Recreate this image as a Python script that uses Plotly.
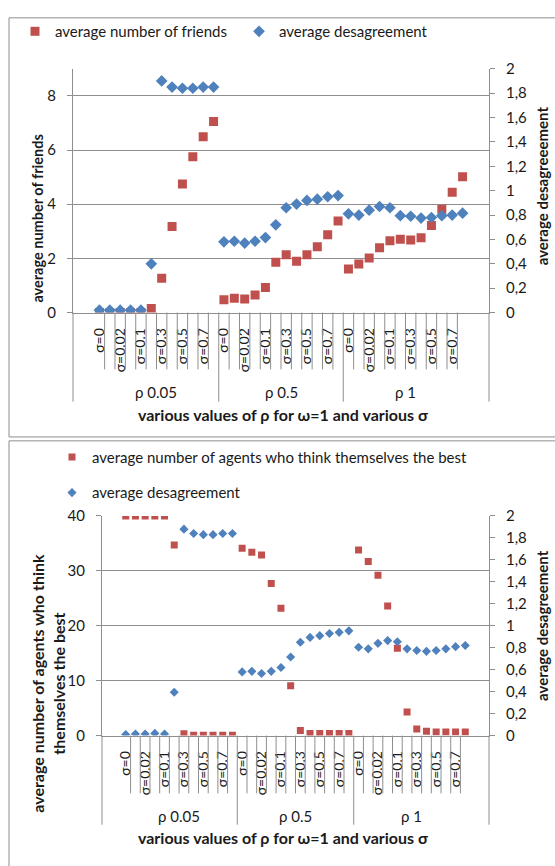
import plotly.graph_objects as go

# ----------------------------------------------------------------------------------------------------------------------
#  DATA
# ----------------------------------------------------------------------------------------------------------------------
rho_groups = ["ρ 0.05", "ρ 0.5", "ρ 1"]
sigma_labels = ["σ=0", "", "σ=0.02", "", "σ=0.1", "", "σ=0.3", "", "σ=0.5", "", "σ=0.7", ""]

# top chart : average number of friends (left axis) / average desagreement (right axis)
friends_rho005 = [0, 0, 0, 0, 0, 0.15, 1.27, 3.18, 4.75, 5.75, 6.49, 7.05]
friends_rho05 = [0.47, 0.53, 0.50, 0.65, 0.93, 1.86, 2.13, 1.89, 2.13, 2.43, 2.87, 3.38]
friends_rho1 = [1.61, 1.79, 2.01, 2.39, 2.65, 2.71, 2.68, 2.76, 3.21, 3.81, 4.44, 5.01]

desag1_rho005 = [0.02, 0.02, 0.02, 0.02, 0.02, 0.40, 1.90, 1.85, 1.84, 1.84, 1.85, 1.85]
desag1_rho05 = [0.58, 0.585, 0.57, 0.585, 0.615, 0.72, 0.86, 0.89, 0.92, 0.93, 0.95, 0.96]
desag1_rho1 = [0.81, 0.80, 0.84, 0.87, 0.86, 0.795, 0.79, 0.775, 0.78, 0.795, 0.80, 0.815]

# bottom chart : average number of agents who think themselves the best / average desagreement
best_rho005 = [40, 40, 40, 40, 40, 34.7, 0.35, 0.05, 0.05, 0.05, 0.05, 0.05]
best_rho05 = [34.1, 33.4, 32.9, 27.7, 23.2, 9.1, 0.95, 0.4, 0.4, 0.4, 0.4, 0.4]
best_rho1 = [33.8, 31.7, 29.2, 23.6, 15.9, 4.3, 1.2, 0.77, 0.65, 0.65, 0.65, 0.65]

desag2_rho005 = [0.01, 0.015, 0.015, 0.02, 0.015, 0.395, 1.88, 1.84, 1.83, 1.83, 1.84, 1.84]
desag2_rho05 = [0.58, 0.585, 0.565, 0.585, 0.62, 0.716, 0.85, 0.894, 0.91, 0.93, 0.94, 0.954]
desag2_rho1 = [0.805, 0.79, 0.84, 0.865, 0.855, 0.79, 0.775, 0.767, 0.775, 0.79, 0.81, 0.82]

# ----------------------------------------------------------------------------------------------------------------------
#  PLOT
# ----------------------------------------------------------------------------------------------------------------------
W, H = 555, 866
RED, BLUE = "#C0504D", "#4F81BD"
GRAY = "#8E8E8E"
TXT = "#1a1a1a"
FONT = "Lato"
FS = 15


def px(v):
    return v / W


def py(v):
    return 1 - v / H


cats = [g + " " + s + str(i) for g in rho_groups for i, s in enumerate(sigma_labels)]
ticktext = sigma_labels * len(rho_groups)
n_sig = len(sigma_labels)

friends = friends_rho005 + friends_rho05 + friends_rho1
desag1 = desag1_rho005 + desag1_rho05 + desag1_rho1
best = best_rho005 + best_rho05 + best_rho1
desag2 = desag2_rho005 + desag2_rho05 + desag2_rho1

fig = go.Figure()
fig.add_trace(go.Scatter(x=cats, y=friends, mode="markers", name="average number of friends",
                         marker=dict(symbol="square", size=9, color=RED), xaxis="x", yaxis="y", legend="legend"))
fig.add_trace(go.Scatter(x=cats, y=desag1, mode="markers", name="average desagreement",
                         marker=dict(symbol="diamond", size=9, color=BLUE), xaxis="x", yaxis="y2", legend="legend"))
fig.add_trace(go.Scatter(x=cats, y=best, mode="markers", name="average number of agents who think themselves the best",
                         marker=dict(symbol="square", size=7, color=RED), xaxis="x2", yaxis="y3", legend="legend2",
                         legendgroup="a"))
fig.add_trace(go.Scatter(x=cats, y=desag2, mode="markers", name="average desagreement",
                         marker=dict(symbol="diamond", size=7, color=BLUE), xaxis="x2", yaxis="y4", legend="legend2",
                         legendgroup="b"))

tickfont = dict(family=FONT, size=FS, color=TXT)
xcommon = dict(type="category", categoryorder="array", categoryarray=cats, tickvals=cats, ticktext=ticktext,
               tickangle=-90, showgrid=False, showline=True, linecolor=GRAY, ticks="", ticklabelstandoff=9,
               tickfont=dict(family=FONT, size=14, color=TXT), fixedrange=True)
ycommon = dict(showline=True, linecolor=GRAY, ticks="outside", ticklen=5, tickcolor=GRAY, zeroline=False,
               tickfont=tickfont, fixedrange=True, ticklabelstandoff=8)

fig.update_layout(
    width=W, height=H, margin=dict(l=0, r=0, t=0, b=0), autosize=False,
    paper_bgcolor="white", plot_bgcolor="white", separators=",.",
    font=dict(family=FONT, size=FS, color=TXT),
    xaxis=dict(domain=[px(73), px(489)], anchor="y", **xcommon),
    yaxis=dict(domain=[py(309), py(60)], range=[0, 9], dtick=2, showgrid=True, gridcolor=GRAY, anchor="x", **ycommon),
    yaxis2=dict(range=[0, 2], dtick=0.2, overlaying="y", side="right", showgrid=False, anchor="x", **ycommon),
    xaxis2=dict(domain=[px(102), px(489)], anchor="y3", **xcommon),
    yaxis3=dict(domain=[py(741), py(516.7)], range=[0, 40], dtick=10, showgrid=True, gridcolor=GRAY, anchor="x2",
                **ycommon),
    yaxis4=dict(range=[0, 2], dtick=0.2, overlaying="y3", side="right", showgrid=False, anchor="x2", **ycommon),
    legend=dict(orientation="h", x=px(15), y=py(22), xanchor="left", yanchor="middle",
                entrywidth=179, entrywidthmode="pixels",
                font=dict(family=FONT, size=FS, color=TXT), bgcolor="rgba(0,0,0,0)"),
    legend2=dict(orientation="v", x=px(52), y=py(440), xanchor="left", yanchor="top", tracegroupgap=13,
                 font=dict(family=FONT, size=FS, color=TXT), bgcolor="rgba(0,0,0,0)"),
    showlegend=True,
)

# chart boxes
shapes = [
    dict(type="rect", xref="paper", yref="paper", x0=px(9), x1=1.01, y0=py(436), y1=py(8),
         line=dict(color=GRAY, width=1)),
    dict(type="rect", xref="paper", yref="paper", x0=px(9), x1=1.01, y0=-0.01, y1=py(440),
         line=dict(color=GRAY, width=1)),
]

# category separators below the axes
for xa, y_axis, y_small, y_big in [("x", 309, 367, 400), ("x2", 741, 800, 832)]:
    for i in range(1, len(cats)):
        bottom = y_big if i % n_sig == 0 else y_small
        shapes.append(dict(type="line", xref=xa, yref="paper", x0=i - 0.5, x1=i - 0.5, y0=py(y_axis), y1=py(bottom),
                           line=dict(color=GRAY, width=1)))
    for xd in (0, 1):
        shapes.append(dict(type="line", xref=xa + " domain", yref="paper", x0=xd, x1=xd, y0=py(y_axis),
                           y1=py(y_big), line=dict(color=GRAY, width=1)))
fig.update_layout(shapes=shapes)

annotations = []
for xa, yy in [("x", 390), ("x2", 823)]:
    for k, g in enumerate(rho_groups):
        annotations.append(dict(text=g, xref=xa, yref="paper", x=k * n_sig + (n_sig - 1) / 2, y=py(yy),
                                xanchor="center", yanchor="middle", showarrow=False,
                                font=dict(family=FONT, size=FS, color=TXT)))

titles = [
    ("<b>various values of ρ for ω=1 and various σ</b>", 283, 413, 0, 16),
    ("<b>various values of ρ for ω=1 and various σ</b>", 283, 845, 0, 16),
    ("<b>average number of friends</b>", 38, 213, -90, 14.5),
    ("<b>average desagreeement</b>", 542, 180, -90, 15),
    ("<b>average number of agents who think<br>themselves the best</b>", 48, 688, -90, 16),
    ("<b>average desagreement</b>", 542, 629, -90, 15),
]
for text, tx, ty, ang, size in titles:
    annotations.append(dict(text=text, xref="paper", yref="paper", x=px(tx), y=py(ty), textangle=ang,
                            xanchor="center", yanchor="middle", showarrow=False,
                            font=dict(family=FONT, size=size, color=TXT)))
fig.update_layout(annotations=annotations)

fig.write_html("out.html", config={"displayModeBar": False},
               post_script="document.body.style.margin='0';document.body.style.overflow='hidden';")
